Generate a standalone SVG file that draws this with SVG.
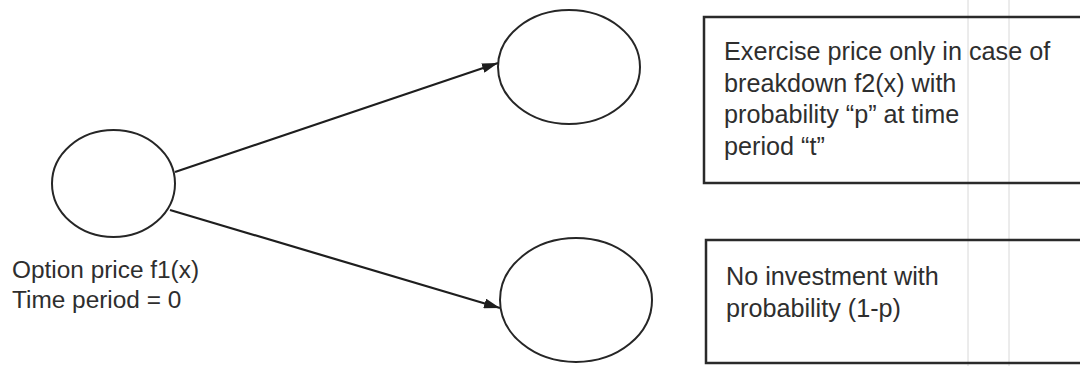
<svg xmlns="http://www.w3.org/2000/svg" width="1080" height="366" viewBox="0 0 1080 366">
<style>
.node{fill:none;stroke:#262626;stroke-width:2}
.box{fill:none;stroke:#2a2a2a;stroke-width:2.5}
.edge{stroke:#1e1e1e;stroke-width:2.2;fill:none}
.t{font-family:"Liberation Sans",Arial,sans-serif;font-size:25.2px;fill:#2e2e2e}
.tl{font-family:"Liberation Sans",Arial,sans-serif;font-size:24.4px;fill:#2e2e2e}
.scan{stroke:#d8d8d8;stroke-width:1}
</style>
<defs>
<marker id="ah2" viewBox="0 0 16 10" refX="16" refY="5" markerWidth="16" markerHeight="10" markerUnits="userSpaceOnUse" orient="auto">
<path d="M0,0 L16,5 L0,10 z" fill="#1e1e1e"/>
</marker>
</defs>
<rect width="1080" height="366" fill="#ffffff"/>
<line class="scan" x1="968" y1="0" x2="968" y2="366"/>
<line class="scan" x1="1009" y1="0" x2="1009" y2="366"/>
<g id="connectors">
<line class="edge" x1="175" y1="172" x2="498" y2="63" marker-end="url(#ah2)"/>
<line class="edge" x1="170" y1="210" x2="500" y2="308" marker-end="url(#ah2)"/>
</g>
<g id="node-start">
<ellipse class="node" cx="113.5" cy="183.5" rx="61.5" ry="53.5"/>
<text class="tl" x="12" y="278">Option price f1(x)</text>
<text class="tl" x="12" y="308">Time period = 0</text>
</g>
<g id="node-up">
<ellipse class="node" cx="569" cy="67" rx="71" ry="57"/>
</g>
<g id="node-down">
<ellipse class="node" cx="576" cy="300" rx="76" ry="62"/>
</g>
<g id="box-exercise">
<rect class="box" x="704" y="17" width="390" height="166"/>
<text class="t" x="724" y="60">Exercise price only in case of</text>
<text class="t" x="724" y="92">breakdown f2(x) with</text>
<text class="t" x="724" y="123">probability “p” at time</text>
<text class="t" x="724" y="155">period “t”</text>
</g>
<g id="box-noinvest">
<rect class="box" x="706" y="240" width="390" height="123"/>
<text class="t" x="726" y="285">No investment with</text>
<text class="t" x="726" y="317">probability (1-p)</text>
</g>
</svg>
